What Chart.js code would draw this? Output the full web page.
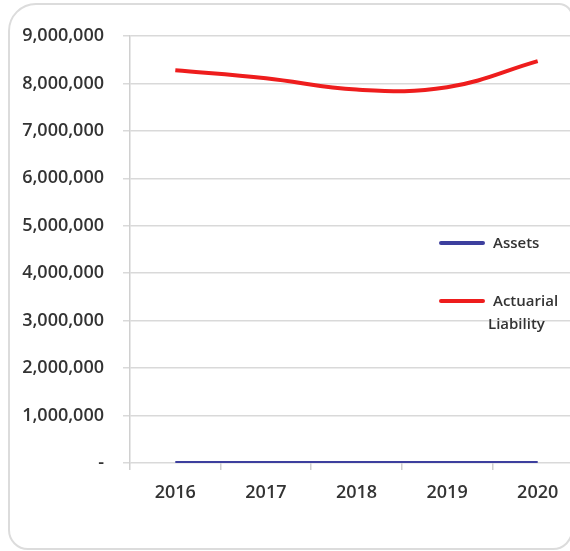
<!DOCTYPE html>
<html>
<head>
<meta charset="utf-8">
<script src="https://cdn.jsdelivr.net/npm/chart.js@4"></script>
<style>
    html, body { margin: 0; padding: 0; background: #fff; overflow: hidden; }
    body { width: 570px; height: 551px; position: relative; }
    .frame {
        position: absolute; left: 8px; top: 3px; width: 561px; height: 543px;
        border: 2px solid #dcdcdc; border-radius: 28px 14px 20px 20px;
    }
    .wrap { position: absolute; left: 0; top: 0; width: 600px; height: 551px; }
    .legend {
        position: absolute; left: 439px; font-family: "Open Sans", sans-serif;
        font-size: 15px; font-weight: 600; color: #333; line-height: 23px;
    }
    .legend .item { position: absolute; white-space: nowrap; }
    .legend .swatch { position: absolute; left: 0; width: 46px; height: 4px; border-radius: 2px; }
    .legend .label { position: absolute; }
</style>
</head>
<body>
<div class="frame"></div>
<div class="wrap"><canvas id="grafico" width="600" height="551"></canvas></div>
<div class="legend" id="legenda"></div>
<script>
const anos = ['2016', '2017', '2018', '2019', '2020'];
const ativos = [0, 0, 0, 0, 0];
const passivoAtuarial = [8280000, 8110000, 7870000, 7920000, 8470000];
const ticksY = [0, 1000000, 2000000, 3000000, 4000000, 5000000, 6000000, 7000000, 8000000, 9000000];

const corAtivos = '#3d3f9e';
const corPassivo = '#ee1d1d';

function formataValor(v) {
    if (v === 0) return '-';
    return v.toLocaleString('en-US');
}

const ctx = document.getElementById('grafico').getContext('2d');

new Chart(ctx, {
    type: 'line',
    data: {
        labels: anos,
        datasets: [
            {
                label: 'Assets',
                data: ativos,
                borderColor: corAtivos,
                borderWidth: 4,
                pointRadius: 0,
                tension: 0.4,
            },
            {
                label: 'Actuarial Liability',
                data: passivoAtuarial,
                borderColor: corPassivo,
                borderWidth: 4,
                pointRadius: 0,
                tension: 0.4,
            },
        ]
    },
    options: {
        responsive: false,
        animation: false,
        layout: { padding: { top: 36, right: 17, bottom: 0, left: 0 } },
        plugins: {
            legend: { display: false },
            tooltip: { enabled: false },
        },
        scales: {
            x: {
                offset: true,
                grid: {
                    offset: true,
                    drawOnChartArea: false,
                    tickLength: 7,
                    color: '#d0d0d0',
                    lineWidth: 1.5,
                },
                border: { display: false },
                ticks: {
                    padding: 12,
                    color: '#333',
                    font: { family: 'Open Sans', size: 18, weight: '600' },
                    maxRotation: 0,
                },
                afterFit(scale) { scale.height = 88; },
            },
            y: {
                min: 0,
                max: 9000000,
                afterBuildTicks(scale) {
                    scale.ticks = ticksY.map(v => ({ value: v }));
                },
                grid: {
                    tickLength: 7,
                    color: '#d9d9d9',
                    lineWidth: 1.5,
                },
                border: { color: '#d0d0d0', width: 1.5 },
                ticks: {
                    padding: 19,
                    color: '#333',
                    font: { family: 'Open Sans', size: 18, weight: '600' },
                    callback: v => formataValor(v),
                },
                afterFit(scale) { scale.width = 130; },
            },
        },
    },
});

const legenda = document.getElementById('legenda');
legenda.innerHTML =
    '<div class="item" style="top:231px"><div class="swatch" style="top:10px;background:' + corAtivos + '"></div>' +
    '<div class="label" style="left:54px">Assets</div></div>' +
    '<div class="item" style="top:289px"><div class="swatch" style="top:10px;background:' + corPassivo + '"></div>' +
    '<div class="label" style="left:54px">Actuarial</div>' +
    '<div class="label" style="left:49px;top:23px">Liability</div></div>';
</script>
</body>
</html>
